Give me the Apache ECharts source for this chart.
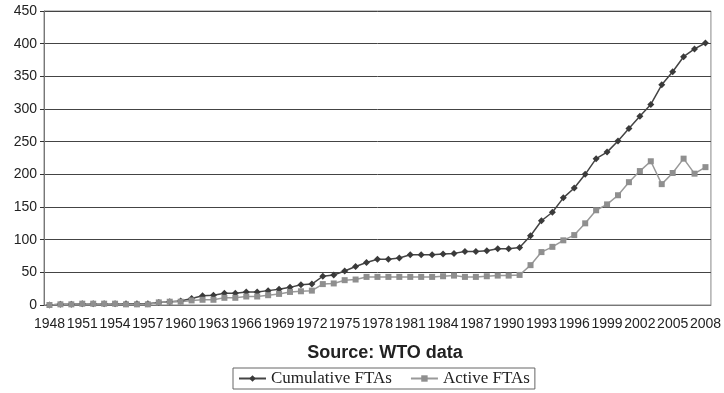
<!DOCTYPE html>
<html>
<head>
<meta charset="utf-8">
<script src="https://cdn.jsdelivr.net/npm/echarts@6/dist/echarts.min.js"></script>
<style>
  html, body { margin: 0; padding: 0; background: #fff; }
  #chart { width: 724px; height: 393px; }
</style>
</head>
<body>
<div id="chart"></div>
<script>
// FTA 数量（WTO 数据），1948–2008
const years = []
for (let y = 1948; y <= 2008; y++) years.push(String(y))

const cumulative = [
  0, 1, 1, 2, 2, 2, 2, 2, 2, 2,
  4, 5, 6, 10, 14, 15, 18, 18, 20, 20,
  22, 24, 27, 31, 32, 44, 46, 52, 59, 65,
  70, 70, 72, 77, 77, 77, 78, 79, 82, 82,
  83, 86, 86, 88, 106, 129, 142, 164, 179, 200,
  224, 234, 251, 270, 289, 307, 337, 357, 380, 392,
  401
]
const active = [
  0, 1, 1, 2, 2, 2, 2, 1, 1, 1,
  4, 5, 5, 7, 8, 8, 11, 11, 13, 13,
  15, 17, 20, 21, 22, 32, 33, 38, 39, 43,
  43, 43, 43, 43, 43, 43, 44, 45, 43, 43,
  44, 45, 45, 46, 61, 81, 89, 99, 107, 125,
  145, 154, 168, 188, 205, 220, 185, 202, 224, 201,
  211
]

const chart = echarts.init(document.getElementById('chart'))

chart.setOption({
  animation: false,
  title: {
    text: 'Source: WTO data',
    left: 380,
    textAlign: 'center',
    top: 339,
    textStyle: { fontFamily: 'Liberation Sans', fontSize: 18, fontWeight: 'bold', color: '#222' }
  },
  legend: {
    left: 233,
    top: 368,
    padding: [2, 5],
    borderColor: '#666',
    borderWidth: 1,
    itemWidth: 27,
    itemHeight: 8,
    itemGap: 18,
    textStyle: { fontFamily: 'Liberation Serif', fontSize: 17, color: '#222' },
    data: ['Cumulative FTAs', 'Active FTAs']
  },
  grid: { left: 44, right: 9, top: 11, bottom: 88, show: true, borderColor: '#888', borderWidth: 1 },
  xAxis: {
    type: 'category',
    data: years,
    boundaryGap: true,
    axisLine: { lineStyle: { color: '#777' } },
    axisTick: { interval: 0, length: 5, lineStyle: { color: '#333' } },
    axisLabel: { interval: 2, fontFamily: 'Liberation Sans', fontSize: 14, color: '#222', margin: 12 }
  },
  yAxis: {
    type: 'value',
    min: 0,
    max: 450,
    interval: 50,
    axisLine: { show: true, lineStyle: { color: '#777' } },
    axisTick: { show: true, length: 4, lineStyle: { color: '#333' } },
    axisLabel: { fontFamily: 'Liberation Sans', fontSize: 14, color: '#222', margin: 7 },
    splitLine: { lineStyle: { color: '#444', width: 1 } }
  },
  series: [
    {
      name: 'Cumulative FTAs',
      type: 'line',
      data: cumulative,
      symbol: 'diamond',
      symbolSize: 7,
      lineStyle: { color: '#444', width: 1.5 },
      itemStyle: { color: '#3a3a3a' }
    },
    {
      name: 'Active FTAs',
      type: 'line',
      data: active,
      symbol: 'rect',
      symbolSize: 6,
      lineStyle: { color: '#999', width: 1.5 },
      itemStyle: { color: '#8f8f8f' }
    }
  ]
})
</script>
</body>
</html>
